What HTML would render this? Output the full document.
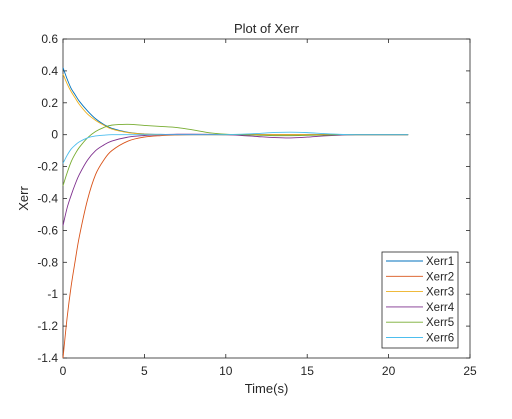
<!DOCTYPE html>
<html><head><meta charset="utf-8">
<style>
body{margin:0;background:#fff;width:512px;height:414px;overflow:hidden;font-family:"Liberation Sans",Arial,sans-serif}
svg text{font-family:"Liberation Sans",Arial,sans-serif;fill:#262626}
</style></head>
<body>
<svg id="chart" width="512" height="414" xmlns="http://www.w3.org/2000/svg">
<rect width="512" height="414" fill="#fff"/>
<g id="plot"></g>
</svg>
<script>
const times=[0,0.25,0.5,0.75,1,1.5,2,2.5,3,4,5,6,7,8,9,10,11,12,13,14,15,16,17,18,19,20,21.2];
const xerr1=[0.42,0.35,0.29,0.25,0.21,0.15,0.10,0.065,0.04,0.015,0.005,0.002,0,0,0,0,0,0,0,0,0,0,0,0,0,0,0];
const xerr2=[-1.4,-1.15,-0.95,-0.79,-0.64,-0.41,-0.25,-0.16,-0.10,-0.04,-0.015,-0.006,-0.002,0,0,0,0,0,0,0,0,0,0,0,0,0,0];
const xerr3=[0.38,0.32,0.27,0.23,0.19,0.13,0.09,0.06,0.035,0.013,0.004,0.001,0,0,0,0,0,0,0,0,0,0,0,0,0,0,0];
const xerr4=[-0.57,-0.46,-0.38,-0.31,-0.25,-0.16,-0.10,-0.065,-0.04,-0.015,-0.005,0,0.003,0.003,0.002,0,-0.005,-0.012,-0.018,-0.02,-0.015,-0.008,-0.003,0,0,0,0];
const xerr5=[-0.32,-0.24,-0.17,-0.12,-0.08,-0.02,0.02,0.045,0.06,0.065,0.058,0.052,0.045,0.03,0.012,0.003,0,-0.003,-0.006,-0.006,-0.004,-0.002,0,0,0,0,0];
const xerr6=[-0.18,-0.13,-0.09,-0.065,-0.045,-0.02,-0.008,-0.003,0,0,0,0,0,0,0,0,0.003,0.008,0.014,0.016,0.013,0.007,0.002,0,0,0,0];
const seriesNames=["Xerr1","Xerr2","Xerr3","Xerr4","Xerr5","Xerr6"];
const seriesData=[xerr1,xerr2,xerr3,xerr4,xerr5,xerr6];
const colors=["#0072bd","#d95319","#edb120","#7e2f8e","#77ac30","#4dbeee"];
const xTicks=[0,5,10,15,20,25];
const yTicks=[0.6,0.4,0.2,0,-0.2,-0.4,-0.6,-0.8,-1,-1.2,-1.4];

const L=63,R=470,T=39,B=358;
const xs=v=>L+(v-0)/(25-0)*(R-L);
const ys=v=>B-(v+1.4)/(2.0)*(B-T);
const NS="http://www.w3.org/2000/svg";
const g=document.getElementById('plot');
function mk(tag,attrs,parent){const e=document.createElementNS(NS,tag);for(const k in attrs)e.setAttribute(k,attrs[k]);(parent||g).appendChild(e);return e;}

const frame=mk('rect',{x:L,y:T,width:R-L,height:B-T,fill:'#fff',stroke:'#262626','stroke-width':0.8});



xTicks.forEach(t=>{
  const x=xs(t);
  mk('line',{x1:x,y1:B,x2:x,y2:B-4,stroke:'#262626','stroke-width':0.8});
  mk('line',{x1:x,y1:T,x2:x,y2:T+4,stroke:'#262626','stroke-width':0.8});
  const tx=mk('text',{x:x,y:B+17,'text-anchor':'middle','font-size':12});
  tx.textContent=t;
  
  
});
yTicks.forEach(t=>{
  const y=ys(t);
  mk('line',{x1:L,y1:y,x2:L+4,y2:y,stroke:'#262626','stroke-width':0.8});
  mk('line',{x1:R,y1:y,x2:R-4,y2:y,stroke:'#262626','stroke-width':0.8});
  const tx=mk('text',{x:L-5,y:y+4,'text-anchor':'end','font-size':12});
  tx.textContent=String(Math.round(t*10)/10);
  
  
});

function smoothPath(pts){
  let d='M'+pts[0][0]+','+pts[0][1];
  for(let i=0;i<pts.length-1;i++){
    const p0=pts[Math.max(0,i-1)],p1=pts[i],p2=pts[i+1],p3=pts[Math.min(pts.length-1,i+2)];
    const c1=[p1[0]+(p2[0]-p0[0])/6,p1[1]+(p2[1]-p0[1])/6];
    const c2=[p2[0]-(p3[0]-p1[0])/6,p2[1]-(p3[1]-p1[1])/6];
    d+=' C'+c1+' '+c2+' '+p2;
  }
  return d;
}
seriesData.forEach((arr,i)=>{
  const pts=arr.map((v,j)=>[xs(times[j]),ys(v)]);
  const p=mk('path',{d:smoothPath(pts),fill:'none',stroke:colors[i],'stroke-width':0.9});
  
  
});

const title=mk('text',{x:(L+R)/2,y:T-6,'text-anchor':'middle','font-size':13});
title.textContent='Plot of Xerr';


const xl=mk('text',{x:(L+R)/2,y:B+35,'text-anchor':'middle','font-size':13});
xl.textContent='Time(s)';


const yl=mk('text',{x:0,y:0,'text-anchor':'middle','font-size':13,transform:'translate(28,'+((T+B)/2)+') rotate(-90)'});
yl.textContent='Xerr';



const lg=mk('g',{});


mk('rect',{x:382,y:252,width:76,height:96,fill:'#fff',stroke:'#262626','stroke-width':0.8},lg);
seriesNames.forEach((n,i)=>{
  const y=261+i*15.3;
  mk('line',{x1:386,y1:y,x2:423,y2:y,stroke:colors[i],'stroke-width':0.9},lg);
  const t=mk('text',{x:426,y:y+4,'font-size':11.5},lg);
  t.textContent=n;
  
  
});
</script>
</body></html>
